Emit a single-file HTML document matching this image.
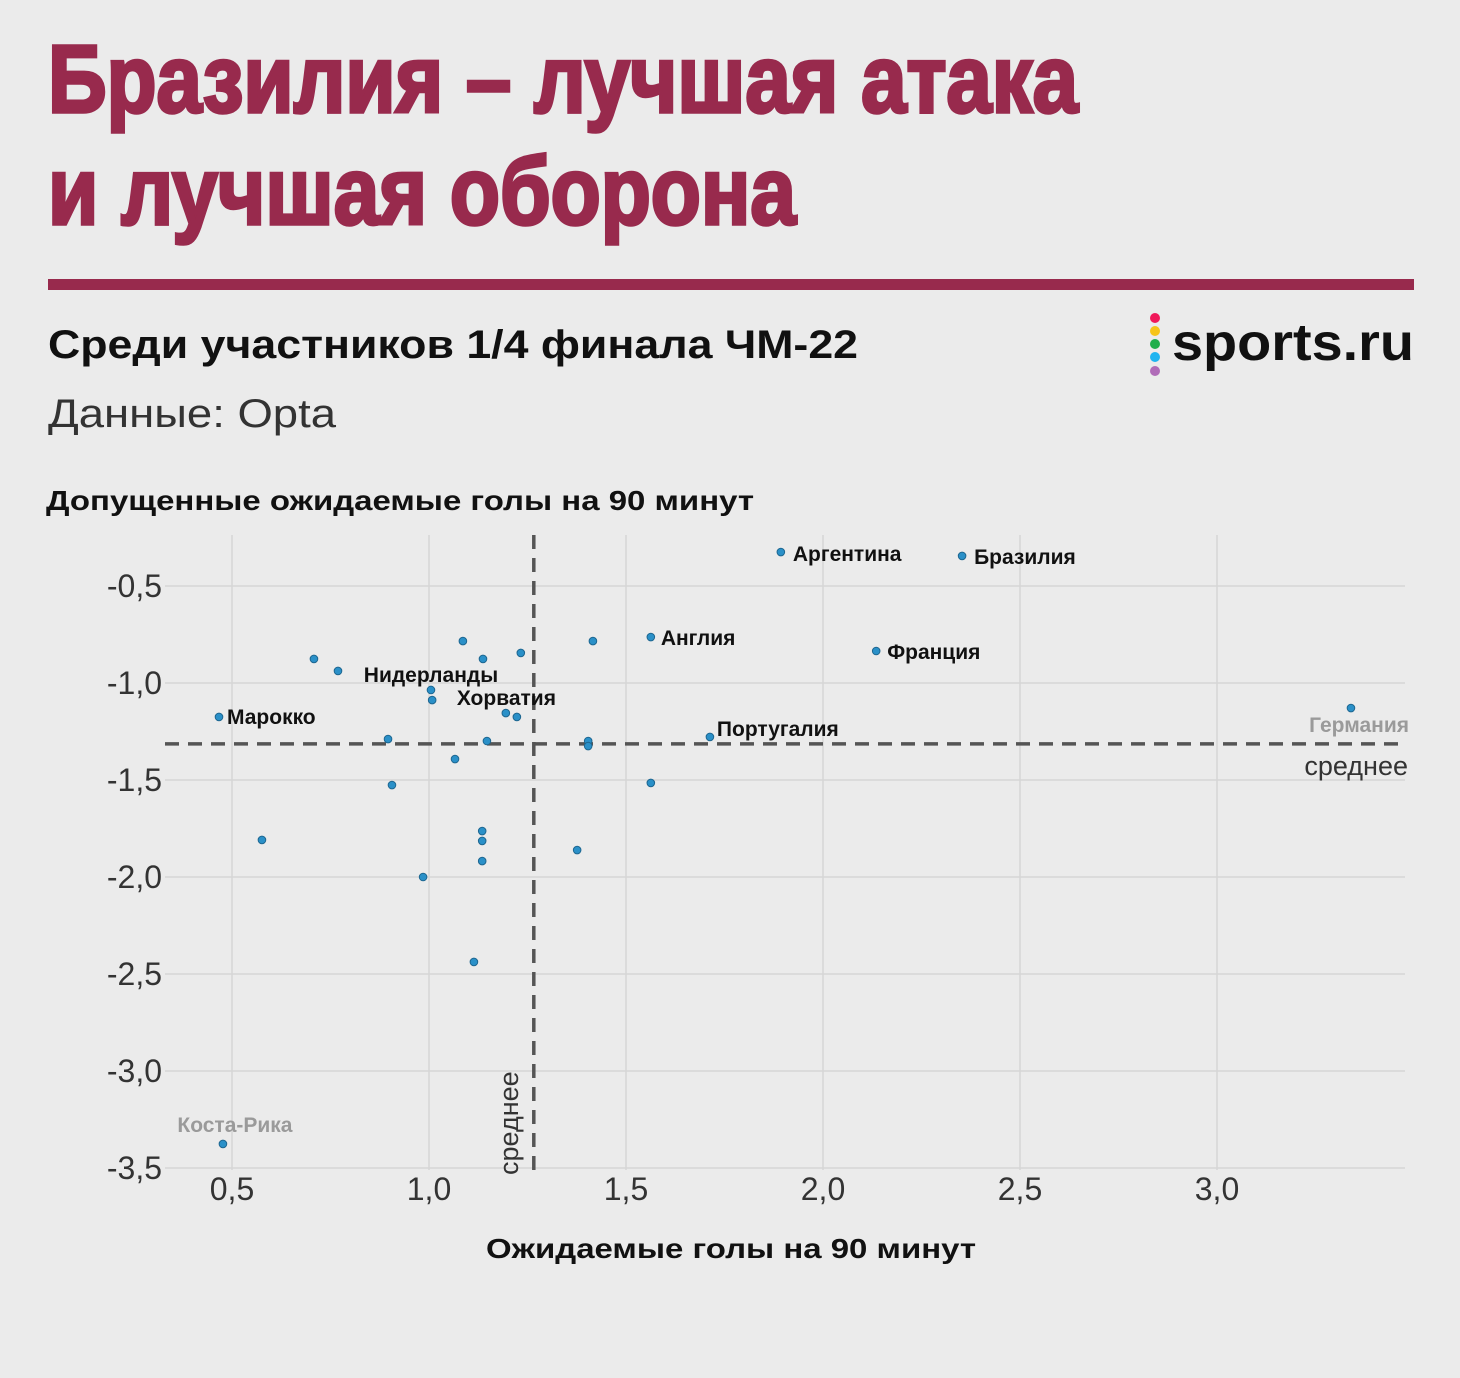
<!DOCTYPE html>
<html><head><meta charset="utf-8"><style>
html,body{margin:0;padding:0;background:#ebebeb}
svg{display:block;font-family:"Liberation Sans",sans-serif}
</style></head><body>
<svg id="chart" width="1460" height="1378" viewBox="0 0 1460 1378" xmlns="http://www.w3.org/2000/svg">
<rect width="1460" height="1378" fill="#ebebeb"/>
<text x="48" y="112" font-size="96" font-weight="bold" fill="#982a4d" stroke="#982a4d" stroke-width="3.5" textLength="1030" lengthAdjust="spacingAndGlyphs">Бразилия – лучшая атака</text>
<text x="48" y="224" font-size="96" font-weight="bold" fill="#982a4d" stroke="#982a4d" stroke-width="3.5" textLength="748" lengthAdjust="spacingAndGlyphs">и лучшая оборона</text>
<rect x="48" y="279" width="1366" height="11" fill="#982a4d"/>
<text x="48" y="358" font-size="40" font-weight="bold" fill="#111" textLength="810" lengthAdjust="spacingAndGlyphs">Среди участников 1/4 финала ЧМ-22</text>
<text x="48" y="427" font-size="40" fill="#333" textLength="288" lengthAdjust="spacingAndGlyphs">Данные: Opta</text>
<g>
<circle cx="1155" cy="318" r="5" fill="#f0195a"/><circle cx="1155" cy="331" r="5" fill="#f6c41a"/><circle cx="1155" cy="344" r="5" fill="#1fae4b"/><circle cx="1155" cy="357" r="5" fill="#1eb4f0"/><circle cx="1155" cy="371" r="5" fill="#b06cb8"/>
<text x="1172" y="360" font-size="52" font-weight="bold" fill="#111" textLength="242" lengthAdjust="spacingAndGlyphs">sports.ru</text>
</g>
<text x="46" y="510" font-size="28" font-weight="bold" fill="#111" textLength="708" lengthAdjust="spacingAndGlyphs">Допущенные ожидаемые голы на 90 минут</text>
<text x="486" y="1258" font-size="28" font-weight="bold" fill="#111" textLength="490" lengthAdjust="spacingAndGlyphs">Ожидаемые голы на 90 минут</text>
<g id="grid"></g><g id="means"></g><g id="points"></g><g id="labels"></g>
</svg>
<script>
const xTicks=[0.5,1.0,1.5,2.0,2.5,3.0];
const yTicks=[-0.5,-1.0,-1.5,-2.0,-2.5,-3.0,-3.5];
const xValues=[1.893,2.353,1.563,2.135,3.340,1.713,0.467,1.005,1.195,0.477,1.086,1.137,1.233,1.416,0.708,0.769,1.008,1.223,0.896,1.147,1.404,1.404,1.066,0.906,1.563,0.576,1.376,1.135,1.135,1.135,0.985,1.114];
const yValues=[-0.325,-0.345,-0.763,-0.835,-1.129,-1.278,-1.175,-1.036,-1.155,-3.376,-0.784,-0.876,-0.845,-0.784,-0.876,-0.938,-1.088,-1.175,-1.289,-1.299,-1.299,-1.325,-1.392,-1.526,-1.515,-1.809,-1.861,-1.763,-1.814,-1.918,-2.0,-2.438];
const pointLabels=["Аргентина","Бразилия","Англия","Франция","Германия","Португалия","Марокко","Нидерланды","Хорватия","Коста-Рика"];
const meanX=1.266, meanY=-1.314;
const X=v=>232+(v-0.5)*394;
const Y=v=>586-(v+0.5)*194;
const NS="http://www.w3.org/2000/svg";
function mk(tag,attrs,parent,txt){const e=document.createElementNS(NS,tag);for(const k in attrs)e.setAttribute(k,attrs[k]);if(txt!=null)e.textContent=txt;document.getElementById(parent).appendChild(e);return e;}
const fmt=v=>v.toFixed(1).replace('.',',');
xTicks.forEach(t=>{
 const l=mk('line',{x1:X(t),x2:X(t),y1:535,y2:1170,stroke:'#d6d6d6','stroke-width':1.5},'grid');
 
 
 const tx=mk('text',{x:X(t),y:1200,'font-size':32,fill:'#333','text-anchor':'middle'},'grid',fmt(t));
 
 
});
yTicks.forEach(t=>{
 const l=mk('line',{x1:165,x2:1405,y1:Y(t),y2:Y(t),stroke:'#d6d6d6','stroke-width':1.5},'grid');
 
 
 const tx=mk('text',{x:162,y:Y(t)+11,'font-size':32,fill:'#333','text-anchor':'end'},'grid',fmt(t));
 
 
});
const mv=mk('line',{x1:X(meanX),x2:X(meanX),y1:535,y2:1172,stroke:'#555','stroke-width':3.5,'stroke-dasharray':'14 9'},'means');


const mh=mk('line',{x1:165,x2:1405,y1:Y(meanY),y2:Y(meanY),stroke:'#555','stroke-width':3.5,'stroke-dasharray':'14 9'},'means');


const mt1=mk('text',{x:1408,y:Y(meanY)+31,'font-size':27,fill:'#333','text-anchor':'end'},'means','среднее');


const mt2=mk('text',{x:0,y:0,'font-size':27,fill:'#333','text-anchor':'start',transform:`translate(${X(meanX)-16},1175) rotate(-90)`},'means','среднее');


xValues.forEach((v,i)=>{
 const c=mk('circle',{cx:X(v),cy:Y(yValues[i]),r:3.8,fill:'#2a90c8',stroke:'#1d6690','stroke-width':1},'points');
 
 
});
const offs=[[12,9,0],[12,8,0],[10,8,0],[11,8,0],[58,24,1],[7,-1,0],[8,7,0],[-72,-7,0],[-49,-8,0],[12,-12,1]];
pointLabels.forEach((n,i)=>{
 const o=offs[i];let x=X(xValues[i])+o[0],y=Y(yValues[i])+o[1],anchor='start';
 if(i===4){anchor='end';x=1409;}
 if(i===9){anchor='middle';}
 if(i===7){x=X(xValues[i]);anchor='middle';y=Y(yValues[i])-8;}
 const t=mk('text',{x:x,y:y,'font-size':21,'font-weight':'bold',fill:o[2]?'#9a9a9a':'#111','text-anchor':anchor},'labels',n);
 
 
});
</script>
</body></html>
